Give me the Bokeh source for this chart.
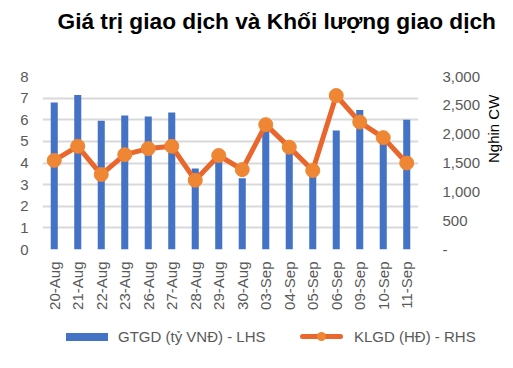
import math
from bokeh.plotting import figure
from bokeh.layouts import column
from bokeh.models import (Range1d, LinearAxis, FixedTicker, NumeralTickFormatter,
                          ColumnDataSource, FactorRange, Title, Div)
from bokeh.embed import file_html
from bokeh.resources import INLINE

dates = ["20-Aug", "21-Aug", "22-Aug", "23-Aug", "26-Aug", "27-Aug", "28-Aug", "29-Aug",
         "30-Aug", "03-Sep", "04-Sep", "05-Sep", "06-Sep", "09-Sep", "10-Sep", "11-Sep"]
gtgd = [6.8, 7.15, 5.95, 6.2, 6.15, 6.33, 3.75, 4.2, 3.3, 5.65, 4.6, 3.7, 5.5, 6.45, 5.05, 6.0]
klgd = [1545, 1790, 1300, 1645, 1750, 1790, 1200, 1630, 1385, 2165, 1775, 1370, 2670, 2210, 1940, 1500]
left_ticks = [0, 1, 2, 3, 4, 5, 6, 7, 8]
right_ticks = [0, 500, 1000, 1500, 2000, 2500, 3000]
series_labels = ["GTGD (tỷ VNĐ) - LHS", "KLGD (HĐ) - RHS"]

FONT = "Liberation Sans"
GREY = "#595959"
BLUE = "#4472C4"
ORANGE_LINE = "#E9662C"
ORANGE_MK = "#EF8634"

src = ColumnDataSource(dict(x=dates, g=gtgd, k=klgd))

p = figure(width=513, height=322, x_range=FactorRange(*dates, range_padding=0),
           y_range=Range1d(0, 8), output_backend="svg", toolbar_location=None,
           min_border_left=42, min_border_right=91, min_border_top=76, min_border_bottom=73)
p.outline_line_color = None
p.background_fill_color = "white"

# spacer between frame and title
p.add_layout(Title(text=" ", text_font_size="23px"), "above")

p.title.text = "Giá trị giao dịch và Khối lượng giao dịch"
p.title.text_font = FONT
p.title.text_font_size = "22.7px"
p.title.text_font_style = "bold"
p.title.text_color = "#000000"
p.title.align = "left"
p.title.offset = 15

p.extra_y_ranges = {"r": Range1d(0, 3000)}

bars = p.vbar(x="x", top="g", width=0.3, source=src, color=BLUE, line_color=None)
ln = p.line(x="x", y="k", source=src, y_range_name="r", line_color=ORANGE_LINE, line_width=5)
mk = p.scatter(x="x", y="k", source=src, y_range_name="r", size=14,
               fill_color=ORANGE_MK, line_color=ORANGE_MK)

# left axis
ya = p.yaxis[0]
ya.ticker = FixedTicker(ticks=left_ticks)
ya.axis_line_color = None
ya.major_tick_line_color = None
ya.minor_tick_line_color = None
ya.major_label_text_font = FONT
ya.major_label_text_font_size = "15px"
ya.major_label_text_color = GREY
ya.major_label_standoff = 8

p.ygrid.ticker = FixedTicker(ticks=left_ticks)
p.ygrid.grid_line_color = "#D9D9D9"
p.ygrid.grid_line_width = 2
p.xgrid.grid_line_color = None

# right axis
ra = LinearAxis(y_range_name="r", ticker=FixedTicker(ticks=right_ticks),
                formatter=NumeralTickFormatter(format="0,0"),
                major_label_overrides={0: "-"}, axis_label="Nghin CW")
ra.axis_line_color = None
ra.major_tick_line_color = None
ra.minor_tick_line_color = None
ra.major_label_text_font = FONT
ra.major_label_text_font_size = "15px"
ra.major_label_text_color = GREY
ra.major_label_standoff = 18
ra.axis_label_text_font = FONT
ra.axis_label_text_font_size = "15px"
ra.axis_label_text_font_style = "normal"
ra.axis_label_text_color = "#000000"
ra.axis_label_standoff = 10
ra.axis_label_orientation = math.pi / 2
p.add_layout(ra, "right")

# x axis
xa = p.xaxis[0]
xa.axis_line_color = None
xa.major_tick_line_color = None
xa.minor_tick_line_color = None
xa.major_label_orientation = math.pi / 2
xa.major_label_text_font = FONT
xa.major_label_text_font_size = "15px"
xa.major_label_text_color = GREY
xa.major_label_standoff = 6

# legend strip below the chart
legend_html = f"""
<div style="position:relative;width:513px;height:46px;font-family:'{FONT}';font-size:15px;color:{GREY};line-height:18px;">
  <span style="position:absolute;left:66px;top:11px;width:42px;height:8px;background:{BLUE};"></span>
  <span style="position:absolute;left:118px;top:6px;white-space:nowrap;">{series_labels[0]}</span>
  <span style="position:absolute;left:300px;top:12px;width:43px;height:5px;border-radius:3px;background:{ORANGE_LINE};"></span>
  <span style="position:absolute;left:317px;top:10px;width:9px;height:9px;border-radius:50%;background:{ORANGE_MK};"></span>
  <span style="position:absolute;left:354px;top:6px;white-space:nowrap;">{series_labels[1]}</span>
</div>
"""
lf = Div(text=legend_html, width=513, height=46, margin=(0, 0, 0, 0))

open("out.html", "w").write(file_html(column(p, lf), INLINE))
